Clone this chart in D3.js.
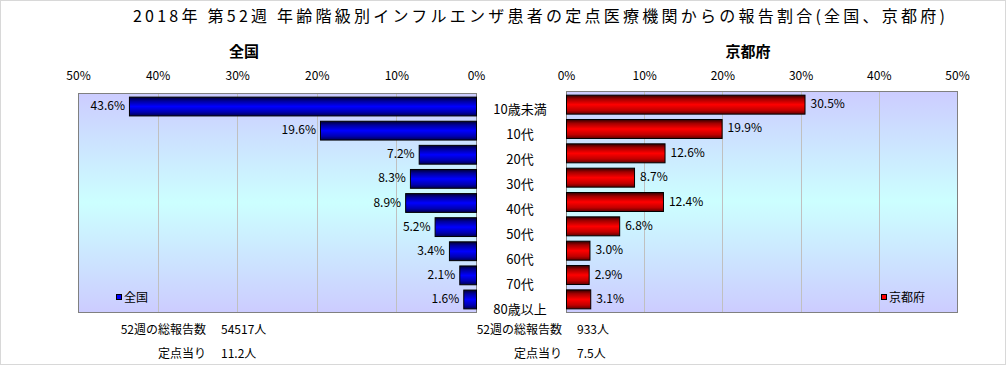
<!DOCTYPE html>
<html>
<head>
<meta charset="utf-8">
<script src="https://cdn.jsdelivr.net/npm/d3@7"></script>
<style>
  body { margin: 0; background: #fff; }
  svg text { font-family: "Noto Sans CJK JP", "Noto Sans", sans-serif; fill: #000; }
</style>
</head>
<body>
<svg id="chart" width="1006" height="365"></svg>
<script>
let svg = d3.select("#chart");

//! DATA
let ages = ["10歳未満", "10代", "20代", "30代", "40代", "50代", "60代", "70代", "80歳以上"];
let zenkoku = [43.6, 19.6, 7.2, 8.3, 8.9, 5.2, 3.4, 2.1, 1.6];
let kyoto = [30.5, 19.9, 12.6, 8.7, 12.4, 6.8, 3.0, 2.9, 3.1];
let ticks = [0, 10, 20, 30, 40, 50];
let title = "2018年 第52週 年齢階級別インフルエンザ患者の定点医療機関からの報告割合(全国、京都府)";
let footLeft = [["52週の総報告数", "54517人"], ["定点当り", "11.2人"]];
let footRight = [["52週の総報告数", "933人"], ["定点当り", "7.5人"]];

// outer frame
svg.append("rect")
    .attr("x", 0.5).attr("y", 0.5)
    .attr("width", 1005).attr("height", 364)
    .attr("fill", "none")
    .attr("stroke", "#d8d8d8");

//? gradients
let defs = svg.append("defs");
function vgrad(id, stops) {
    let g = defs.append("linearGradient").attr("id", id)
        .attr("x1", 0).attr("y1", 0).attr("x2", 0).attr("y2", 1);
    stops.forEach(s => g.append("stop").attr("offset", s[0]).attr("stop-color", s[1]));
}
vgrad("bg", [[0, "#ccccff"], [0.5, "#ccffff"], [1, "#ccccff"]]);
vgrad("blue", [[0, "#000033"], [0.2, "#00009a"], [0.5, "#0000ff"], [0.8, "#0000b0"], [1, "#000050"]]);
vgrad("red", [[0, "#300000"], [0.2, "#a00000"], [0.5, "#ff0000"], [0.8, "#c00000"], [1, "#600000"]]);

// title
svg.append("text")
    .attr("x", 133).attr("y", 22)
    .attr("font-size", 16)
    .attr("textLength", 812)
    .attr("lengthAdjust", "spacing")
    .text(title);

//? one panel
function panel(opt) {
    let x = d3.scaleLinear().domain([0, 50]).range(opt.xr);
    let y = d3.scaleBand().domain(ages).range(opt.yr).paddingInner(0.22).paddingOuter(0.15);
    let x0 = Math.min(opt.xr[0], opt.xr[1]);
    let x1 = Math.max(opt.xr[0], opt.xr[1]);
    let g = svg.append("g");

    g.append("rect")
        .attr("x", x0).attr("y", opt.yr[0])
        .attr("width", x1 - x0).attr("height", opt.yr[1] - opt.yr[0])
        .attr("fill", "url(#bg)");

    g.append("g")
        .selectAll("line")
        .data(ticks.filter(t => t > 0 && t < 50))
        .enter()
        .append("line")
        .attr("x1", d => Math.round(x(d)) + 0.5)
        .attr("x2", d => Math.round(x(d)) + 0.5)
        .attr("y1", opt.yr[0])
        .attr("y2", opt.yr[1])
        .attr("stroke", "#c0c0c0");

    g.append("rect")
        .attr("x", x0 + 0.5).attr("y", opt.yr[0] + 0.5)
        .attr("width", x1 - x0).attr("height", opt.yr[1] - opt.yr[0])
        .attr("fill", "none")
        .attr("stroke", "#808080");

    // axis labels on top
    let ax = g.append("g")
        .attr("transform", "translate(0,83)")
        .call(d3.axisTop(x).tickValues(ticks).tickSize(0).tickFormat(d => d + "%"));
    ax.select(".domain").remove();
    ax.selectAll("text").attr("font-size", 12).attr("font-family", null).attr("fill", "#000");

    // panel name
    g.append("text")
        .attr("x", opt.nameX).attr("y", 57)
        .attr("text-anchor", "middle")
        .attr("font-size", 15)
        .attr("font-weight", "bold")
        .text(opt.name);

    // bars
    g.append("g")
        .selectAll("rect")
        .data(opt.values)
        .enter()
        .append("rect")
        .attr("x", d => Math.min(x(0), x(d)) + 0.5)
        .attr("y", (d, i) => y(ages[i]) + 0.5)
        .attr("width", d => Math.abs(x(d) - x(0)))
        .attr("height", y.bandwidth())
        .attr("fill", opt.fill)
        .attr("stroke", "#000");

    // value labels
    g.append("g")
        .selectAll("text")
        .data(opt.values)
        .enter()
        .append("text")
        .attr("x", d => x(d) + opt.labelDx)
        .attr("y", (d, i) => y(ages[i]) + y.bandwidth() / 2 + 4)
        .attr("text-anchor", opt.labelAnchor)
        .attr("font-size", 12)
        .text(d => d.toFixed(1) + "%");

    // legend
    g.append("rect")
        .attr("x", opt.legX + 0.5).attr("y", 294.5)
        .attr("width", 5).attr("height", 5)
        .attr("fill", opt.legColor)
        .attr("stroke", "#000");
    g.append("text")
        .attr("x", opt.legX + 8).attr("y", 302)
        .attr("font-size", 12)
        .text(opt.name);

    // footer
    opt.foot.forEach((f, i) => {
        g.append("text")
            .attr("x", opt.footX).attr("y", 334 + i * 24)
            .attr("text-anchor", "end")
            .attr("font-size", 12)
            .text(f[0]);
        g.append("text")
            .attr("x", opt.footX + 15).attr("y", 334 + i * 24)
            .attr("font-size", 12)
            .text(f[1]);
    });
}

panel({
    name: "全国", nameX: 244,
    xr: [476, 78], yr: [93, 312],
    values: zenkoku, fill: "url(#blue)", legColor: "#0000ff",
    labelDx: -4, labelAnchor: "end",
    legX: 116, foot: footLeft, footX: 206
});

panel({
    name: "京都府", nameX: 748,
    xr: [566, 957], yr: [91, 312],
    values: kyoto, fill: "url(#red)", legColor: "#ff0000",
    labelDx: 6, labelAnchor: "start",
    legX: 881, foot: footRight, footX: 562
});

//? category labels (own band, a bit taller than the bars)
let yl = d3.scaleBand().domain(ages).range([97, 323]);
svg.append("g")
    .selectAll("text")
    .data(ages)
    .enter()
    .append("text")
    .attr("x", 520)
    .attr("y", d => yl(d) + yl.bandwidth() / 2 + 4)
    .attr("text-anchor", "middle")
    .attr("font-size", 13)
    .text(d => d);
</script>
</body>
</html>
